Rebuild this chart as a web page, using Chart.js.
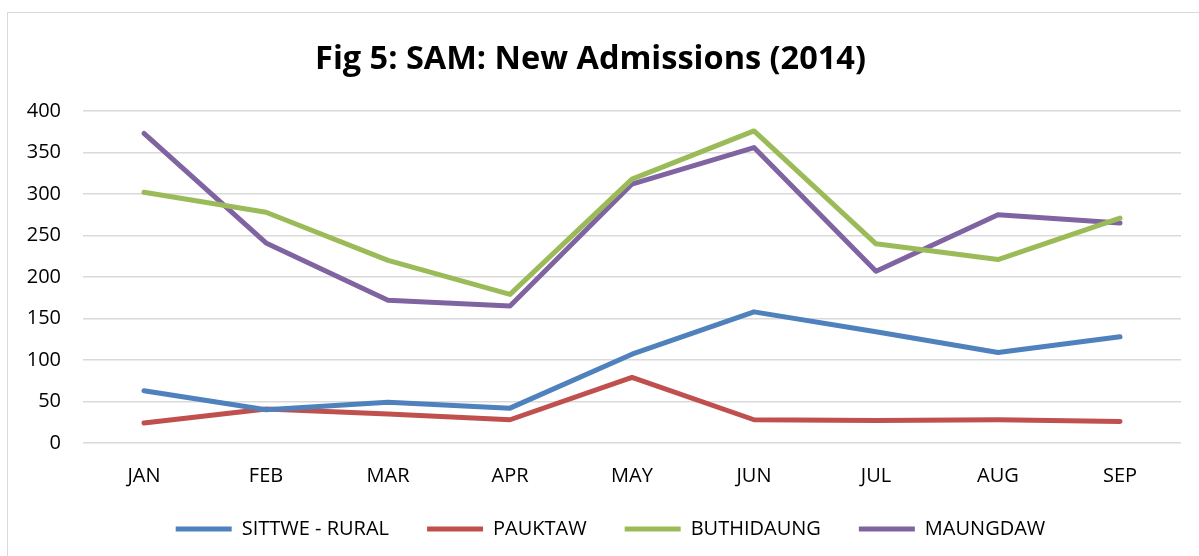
<!DOCTYPE html>
<html>
<head>
<meta charset="utf-8">
<script src="https://cdn.jsdelivr.net/npm/chart.js@4/dist/chart.umd.min.js"></script>
<style>
  html, body { margin: 0; padding: 0; background: #fff; }
  #frame { position: absolute; left: 7px; top: 12px; width: 1260px; height: 600px; border: 1.5px solid #d9d9d9; }
  #chart { position: absolute; left: 0; top: 0; }
</style>
</head>
<body>
<div id="frame"></div>
<canvas id="chart" width="1199" height="556"></canvas>
<script>
const months = ["JAN", "FEB", "MAR", "APR", "MAY", "JUN", "JUL", "AUG", "SEP"];
const sittweRural = [63, 40, 49, 42, 107, 158, 134, 109, 128];
const pauktaw = [24, 41, 35, 28, 79, 28, 27, 28, 26];
const buthidaung = [302, 278, 220, 179, 318, 376, 240, 221, 271];
const maungdaw = [373, 241, 172, 165, 312, 356, 207, 275, 265];
const yTicks = [0, 50, 100, 150, 200, 250, 300, 350, 400];

const font = "'Open Sans', sans-serif";

function series(label, data, color) {
  return {
    label,
    data,
    borderColor: color,
    backgroundColor: color,
    borderWidth: 5,
    borderCapStyle: "round",
    borderJoinStyle: "round",
    tension: 0,
    pointRadius: 0,
    pointHoverRadius: 0,
    pointStyle: "line",
    pointBorderColor: color,
    pointBorderWidth: 5
  };
}

// legend in the original sits a bit right of centre and closer to the axis labels
const legendShift = {
  id: "legendShift",
  afterLayout(chart) {
    const lg = chart.legend;
    lg.left += 20;
    lg.right += 20;
    lg.top -= 12;
    lg.bottom -= 12;
  }
};

new Chart(document.getElementById("chart"), {
  type: "line",
  data: {
    labels: months,
    datasets: [
      series("SITTWE - RURAL", sittweRural, "#4f81bd"),
      series("PAUKTAW", pauktaw, "#c0504d"),
      series("BUTHIDAUNG", buthidaung, "#9bbb59"),
      series("MAUNGDAW", maungdaw, "#8064a2")
    ]
  },
  plugins: [legendShift],
  options: {
    responsive: false,
    animation: false,
    devicePixelRatio: 1,
    layout: { padding: { left: 0, right: 18, top: 0, bottom: -5 } },
    plugins: {
      title: {
        display: true,
        text: "Fig 5: SAM: New Admissions (2014)",
        color: "#000",
        font: { family: font, size: 32.5, weight: "bold" },
        padding: { top: 40, bottom: 32 }
      },
      legend: {
        position: "bottom",
        labels: {
          usePointStyle: true,
          pointStyleWidth: 56,
          color: "#000",
          font: { family: font, size: 20 },
          padding: 38
        }
      },
      tooltip: { enabled: false }
    },
    scales: {
      x: {
        offset: true,
        grid: { display: false },
        border: { display: false },
        ticks: { color: "#000", font: { family: font, size: 20 }, padding: 13, maxRotation: 0 },
        afterFit: (s) => { s.height = 50; }
      },
      y: {
        min: 0,
        max: 400,
        afterBuildTicks: (s) => { s.ticks = yTicks.map((v) => ({ value: v })); },
        grid: { color: "#d9d9d9", lineWidth: 1.5, drawTicks: false },
        border: { display: false },
        ticks: { color: "#000", font: { family: font, size: 20 }, padding: 22 },
        afterFit: (s) => { s.width = 83; }
      }
    }
  }
});
</script>
</body>
</html>
